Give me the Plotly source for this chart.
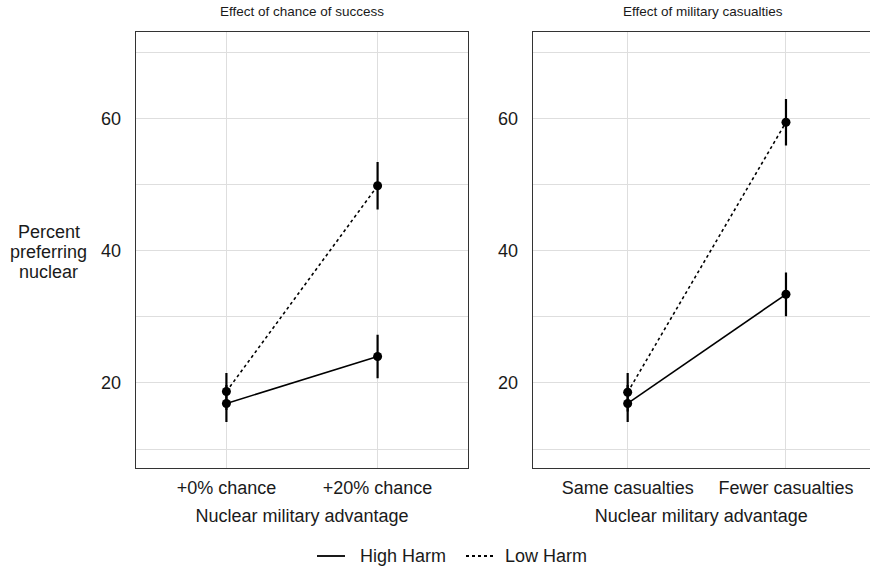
import plotly.graph_objects as go

# ---- data ----
left_categories = ["+0% chance", "+20% chance"]
right_categories = ["Same casualties", "Fewer casualties"]

left_high = [16.9, 24.0]
left_high_err = [2.8, 3.3]
left_low = [18.7, 49.8]
left_low_err = [2.8, 3.6]

right_high = [16.9, 33.4]
right_high_err = [2.8, 3.3]
right_low = [18.6, 59.4]
right_low_err = [2.9, 3.5]

y_ticks = [20, 40, 60]
y_minor = [10, 30, 50, 70]
series_names = ["High Harm", "Low Harm"]
y_title_lines = ["Percent", "preferring", "nuclear"]

W, H = 870, 571
FONT = "Liberation Sans, Arial, sans-serif"
TXT = "#1a1a1a"
DASH = "3px,3px"

fig = go.Figure()

def add_series(xa, ya, cats, vals, errs, dash, name):
    fig.add_trace(go.Scatter(
        x=cats, y=vals, xaxis=xa, yaxis=ya, mode="lines+markers",
        line=dict(color="black", width=1.6, dash=dash),
        marker=dict(color="black", size=9),
        error_y=dict(type="data", array=errs, visible=True, thickness=2.2, width=0, color="black"),
        showlegend=False, name=name))

add_series("x", "y", left_categories, left_high, left_high_err, "solid", series_names[0])
add_series("x", "y", left_categories, left_low, left_low_err, DASH, series_names[1])
add_series("x2", "y2", right_categories, right_high, right_high_err, "solid", series_names[0])
add_series("x2", "y2", right_categories, right_low, right_low_err, DASH, series_names[1])

y0 = (H - 468.3) / H
y1 = (H - 32.3) / H
lx0, lx1 = 135.7 / W, 468.3 / W
rx0 = 532.7 / W

grid = "#dedede"
yaxis_common = dict(
    range=[7.1, 73.0], domain=[y0, y1], tickvals=y_ticks, showgrid=True, gridcolor=grid,
    gridwidth=1, zeroline=False, showline=True, linecolor="#333333", linewidth=1.3,
    ticks="", tickfont=dict(family=FONT, size=18, color=TXT),
    minor=dict(tickvals=y_minor, showgrid=True, gridcolor=grid, gridwidth=1, ticks=""),
    automargin=False, ticklabelstandoff=10,
)
xaxis_common = dict(
    type="category", range=[-0.6, 1.6], showgrid=True, gridcolor=grid, gridwidth=1,
    zeroline=False, showline=True, linecolor="#333333", linewidth=1.3, ticks="",
    tickfont=dict(family=FONT, size=18, color=TXT), automargin=False, ticklabelstandoff=3,
    title=dict(text="Nuclear military advantage", font=dict(family=FONT, size=18, color=TXT), standoff=12),
)

# manual legend (key lines + labels)
leg_y = 1 - 556 / H
shapes = [
    dict(type="line", xref="paper", yref="paper", x0=317 / W, x1=345 / W, y0=leg_y, y1=leg_y,
         line=dict(color="black", width=1.8)),
    dict(type="line", xref="paper", yref="paper", x0=466 / W, x1=493 / W, y0=leg_y, y1=leg_y,
         line=dict(color="black", width=1.8, dash=DASH)),
]

annotations = [
    dict(text="Effect of chance of success", x=(lx0 + lx1) / 2, y=1 - 12 / H, xref="paper", yref="paper",
         showarrow=False, font=dict(family=FONT, size=13.5, color=TXT), xanchor="center", yanchor="middle"),
    dict(text="Effect of military casualties", x=703 / W, y=1 - 12 / H, xref="paper", yref="paper",
         showarrow=False, font=dict(family=FONT, size=13.5, color=TXT), xanchor="center", yanchor="middle"),
    dict(text=series_names[0], x=358 / W, y=leg_y, xref="paper", yref="paper", showarrow=False,
         font=dict(family=FONT, size=18, color=TXT), xanchor="left", yanchor="middle"),
    dict(text=series_names[1], x=503 / W, y=leg_y, xref="paper", yref="paper", showarrow=False,
         font=dict(family=FONT, size=18, color=TXT), xanchor="left", yanchor="middle"),
]
for line_text, ypix in zip(y_title_lines, [232.3, 251.7, 271.7]):
    annotations.append(dict(text=line_text, x=48.5 / W, y=1 - ypix / H, xref="paper", yref="paper",
                            showarrow=False, font=dict(family=FONT, size=18, color=TXT),
                            xanchor="center", yanchor="middle"))

fig.update_layout(
    width=W, height=H, paper_bgcolor="white", plot_bgcolor="white",
    margin=dict(l=0, r=0, t=0, b=0), showlegend=False,
    xaxis=dict(xaxis_common, domain=[lx0, lx1], anchor="y", mirror=True),
    yaxis=dict(yaxis_common, anchor="x", mirror=True),
    xaxis2=dict(xaxis_common, domain=[rx0, 1.0], anchor="y2", mirror=True,
                range=[-0.6, (W - 532.7) / 158.3 - 0.6]),
    yaxis2=dict(yaxis_common, anchor="x2", mirror=False),
    shapes=shapes,
    annotations=annotations,
)

fig.write_html("out.html", config={"displayModeBar": False},
               post_script="document.body.style.margin='0';document.body.style.padding='0';")
